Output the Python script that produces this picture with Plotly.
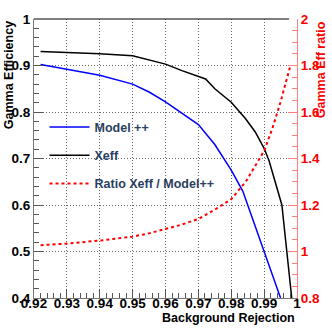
import plotly.graph_objects as go

# Background rejection (x) values per curve
model_x = [0.922, 0.93, 0.94, 0.95, 0.955, 0.96, 0.965, 0.97, 0.975, 0.98, 0.9835, 0.99, 0.995]
model_eff = [0.902, 0.892, 0.879, 0.860, 0.843, 0.822, 0.797, 0.773, 0.730, 0.675, 0.630, 0.498, 0.400]

xeff_x = [0.922, 0.93, 0.94, 0.95, 0.955, 0.96, 0.965, 0.97, 0.9722, 0.975, 0.98, 0.9843, 0.9873, 0.99, 0.9915, 0.9954, 0.9984]
xeff_eff = [0.930, 0.928, 0.9255, 0.921, 0.912, 0.903, 0.889, 0.877, 0.871, 0.850, 0.821, 0.786, 0.757, 0.722, 0.695, 0.600, 0.400]

ratio_x = [0.922, 0.93, 0.94, 0.95, 0.955, 0.96, 0.965, 0.97, 0.975, 0.98, 0.9845, 0.99, 0.9925, 0.995, 0.998]
ratio_val = [1.027, 1.034, 1.047, 1.064, 1.078, 1.097, 1.116, 1.140, 1.180, 1.225, 1.302, 1.433, 1.529, 1.643, 1.800]

FONT = "Liberation Sans"

fig = go.Figure()
fig.add_trace(go.Scatter(x=model_x, y=model_eff, mode="lines", name="Model ++",
                         line=dict(color="#0000ff", width=1.5), legendgroup="a"))
fig.add_trace(go.Scatter(x=xeff_x, y=xeff_eff, mode="lines", name="Xeff",
                         line=dict(color="black", width=1.5), legendgroup="b"))
fig.add_trace(go.Scatter(x=ratio_x, y=ratio_val, mode="lines", name="Ratio Xeff / Model++",
                         line=dict(color="#ff0000", width=2, dash="dot"), legendgroup="c",
                         yaxis="y2"))

tickfont = dict(family=FONT, size=13.5, color="black", weight="bold")

fig.update_layout(
    width=332, height=332,
    margin=dict(l=33, r=34, t=16, b=34),
    plot_bgcolor="white", paper_bgcolor="white",
    showlegend=True,
    legend=dict(x=0.04, y=0.665, xanchor="left", yanchor="top",
                bgcolor="rgba(0,0,0,0)", font=dict(family=FONT, size=12.5, weight="bold"),
                tracegroupgap=9, itemwidth=40),
    xaxis=dict(range=[0.92, 1.0], dtick=0.01, tick0=0.92, ticks="inside", ticklen=9,
               tickcolor="#555", linecolor="#777", showline=True, tickfont=tickfont,
               tickformat="~g", ticklabelstandoff=-7,
               showgrid=True, gridcolor="#666", griddash="1px,2px", gridwidth=1, zeroline=False,
               minor=dict(dtick=0.002, ticks="inside", ticklen=5, tickcolor="#555")),
    yaxis=dict(range=[0.4, 1.0], dtick=0.1, ticks="inside", ticklen=9,
               tickcolor="#555", linecolor="#777", showline=True, tickfont=tickfont,
               tickformat="~g",
               showgrid=True, gridcolor="#666", griddash="1px,2px", gridwidth=1, zeroline=False,
               minor=dict(dtick=0.02, ticks="inside", ticklen=5, tickcolor="#555")),
    yaxis2=dict(range=[0.8, 2.0], dtick=0.2, overlaying="y", side="right", ticks="inside",
                ticklen=9, tickcolor="#ff8080", linecolor="#ff8080", showline=True,
                tickfont=dict(family=FONT, size=13.5, color="#ff0000", weight="bold"),
                tickformat="~g", showgrid=False, zeroline=False,
                minor=dict(dtick=0.05, ticks="inside", ticklen=5, tickcolor="#ff8080")),
)

# top frame
fig.add_shape(type="line", xref="paper", yref="paper", x0=0, x1=0.97, y0=1, y1=1,
              line=dict(color="black", width=1))

fig.add_annotation(text="<b>Gamma Efficiency</b>", xref="paper", yref="paper",
                   x=-0.094, y=1.0, xanchor="center", yanchor="top", textangle=-90,
                   showarrow=False, font=dict(family=FONT, size=12.5, color="black"))
fig.add_annotation(text="<b>Gamma Eff ratio</b>", xref="paper", yref="paper",
                   x=1.09, y=1.0, xanchor="center", yanchor="top", textangle=-90,
                   showarrow=False, font=dict(family=FONT, size=12.5, color="#ff0000"))
fig.add_annotation(text="<b>Background Rejection</b>", xref="paper", yref="paper",
                   x=1.0, y=-0.071, xanchor="right", yanchor="middle",
                   showarrow=False, font=dict(family=FONT, size=12.5, color="black"))

# the page body has a default 8px margin; drop it so the chart sits at the corner
fig.write_html("out.html", config={"displayModeBar": False},
               post_script="document.body.style.margin='0';")
